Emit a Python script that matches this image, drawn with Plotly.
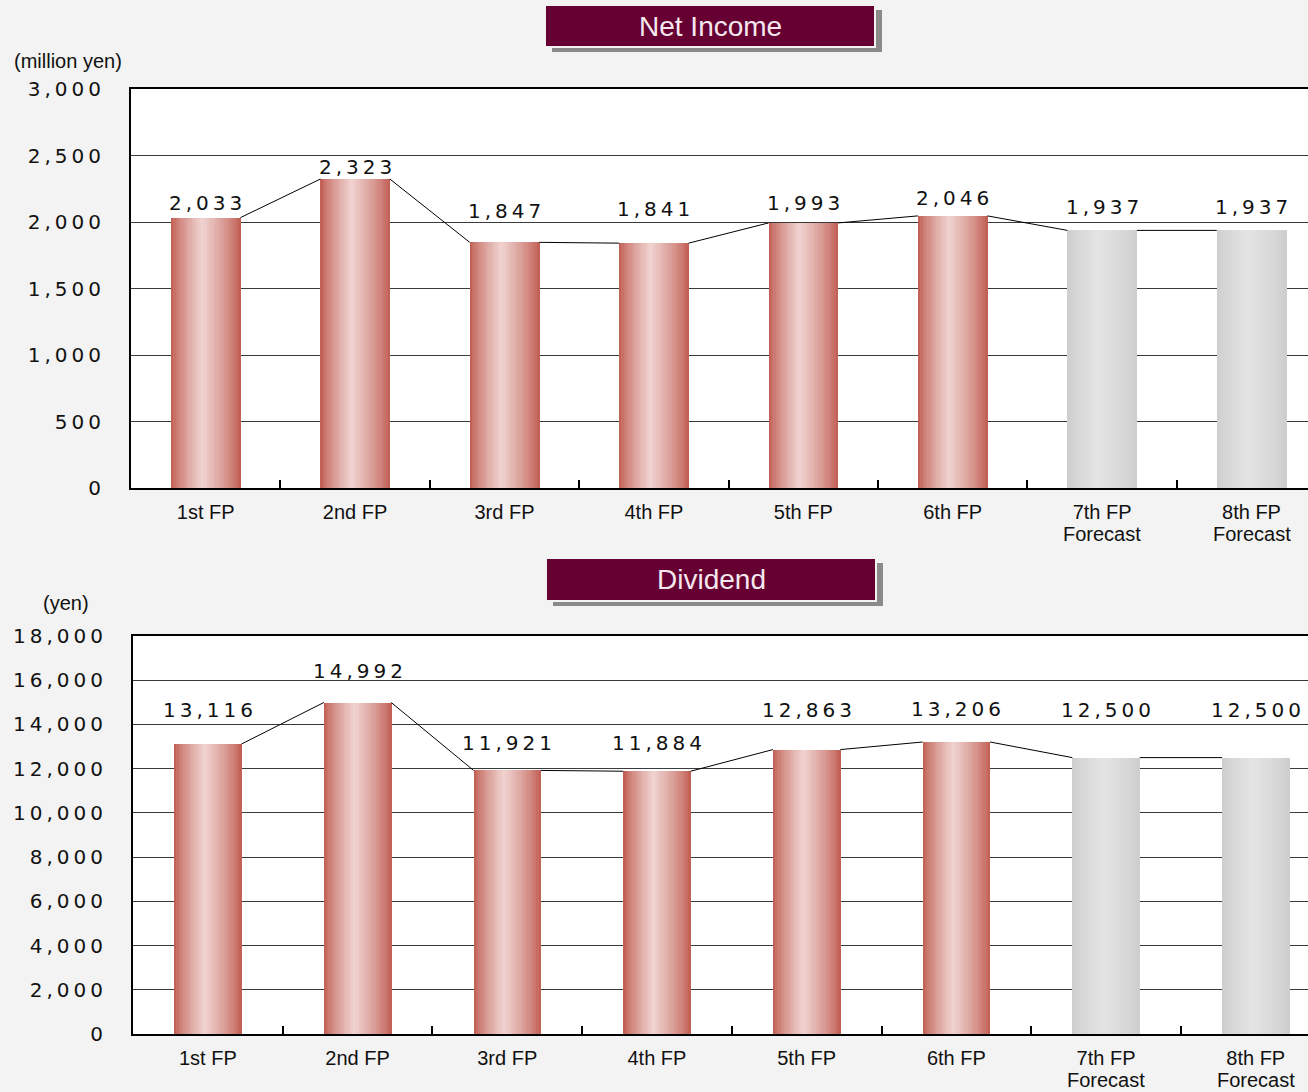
import plotly.graph_objects as go

# ---- data -------------------------------------------------------------
periods = ["1st FP", "2nd FP", "3rd FP", "4th FP", "5th FP", "6th FP",
           "7th FP<br>Forecast", "8th FP<br>Forecast"]
forecast = [False, False, False, False, False, False, True, True]

net_income = [2033, 2323, 1847, 1841, 1993, 2046, 1937, 1937]   # million yen
dividend = [13116, 14992, 11921, 11884, 12863, 13206, 12500, 12500]  # yen

ni_ticks = [0, 500, 1000, 1500, 2000, 2500, 3000]
div_ticks = [0, 2000, 4000, 6000, 8000, 10000, 12000, 14000, 16000, 18000]

# ---- styling ----------------------------------------------------------
W, H = 1308, 1092
FONT = "Liberation Sans, Arial, sans-serif"
NUM_FONT = "DejaVu Sans, Verdana, sans-serif"
INK = "#111111"
PAPER = "#F3F3F3"

# vertical lift (px) of each value label above its bar top
ni_label_lift = [15, 12, 31, 34, 20, 18, 23, 23]
div_label_lift = [34, 32, 27, 28, 40, 33, 48, 48]

N_STRIPS = 30
RED_DARK, RED_LIGHT = (190, 88, 76), (240, 211, 209)
GRAY_DARK, GRAY_LIGHT = (204, 204, 204), (228, 228, 228)
PEAK = 0.45

first_lines = [p.split("<br>")[0] for p in periods]
second_lines = [p.split("<br>")[1] if "<br>" in p else "" for p in periods]


def spaced(v):
    # wide-tracked number: thin space between glyphs
    return "\u2009".join(f"{v:,}")


def mix(a, b, f):
    return "rgb({},{},{})".format(*[round(a[k] + (b[k] - a[k]) * f) for k in range(3)])


def shade(t):
    # 0 at the bar edges, 1 at the highlight
    if t <= PEAK:
        f = t / PEAK
    else:
        f = (1 - t) / (1 - PEAK)
    return f ** 0.75


fig = go.Figure()


def add_panel(values, xa, ya, bar_w, lifts):
    xs = list(range(len(values)))
    sw = bar_w / N_STRIPS
    for i in range(N_STRIPS):
        f = shade((i + 0.5) / N_STRIPS)
        cols = [mix(GRAY_DARK, GRAY_LIGHT, f) if fc else mix(RED_DARK, RED_LIGHT, f)
                for fc in forecast]
        fig.add_trace(go.Bar(
            x=xs, y=values, xaxis=xa, yaxis=ya,
            width=sw * 1.15, offset=-bar_w / 2 + i * sw,
            marker=dict(color=cols, line=dict(width=0)),
            hoverinfo="skip", showlegend=False,
        ))
    # connector lines between neighbouring bar tops
    lx, ly = [], []
    for i in range(len(values) - 1):
        lx += [i + bar_w / 2, i + 1 - bar_w / 2, None]
        ly += [values[i], values[i + 1], None]
    fig.add_trace(go.Scatter(x=lx, y=ly, xaxis=xa, yaxis=ya, mode="lines",
                             line=dict(color="#000000", width=1),
                             hoverinfo="skip", showlegend=False))
    for i, v in enumerate(values):
        fig.add_annotation(x=i, y=v, xref=xa, yref=ya, text=spaced(v),
                           showarrow=False, yanchor="middle", yshift=lifts[i],
                           font=dict(family=NUM_FONT, size=20, color=INK))
    # second line of the category labels, set a little tighter than <br>
    for i, s in enumerate(second_lines):
        if s:
            fig.add_annotation(x=i, y=0, xref=xa, yref=ya + " domain", text=s,
                               showarrow=False, yanchor="middle", yshift=-46,
                               font=dict(family=FONT, size=20, color=INK))


add_panel(net_income, "x", "y", 0.465, ni_label_lift)
add_panel(dividend, "x2", "y2", 0.45, div_label_lift)


def xaxis_cfg(left_px, span_px, step_px):
    return dict(
        domain=[left_px / W, 1],
        range=[-0.5, -0.5 + span_px / step_px],
        automargin=False,
        tickmode="array", tickvals=list(range(len(periods))), ticktext=first_lines,
        ticks="", showgrid=False, zeroline=False,
        showline=True, linecolor="#000000", linewidth=2, mirror=True,
        tickfont=dict(family=FONT, size=20, color=INK),
        ticklabelstandoff=5,
        minor=dict(tickmode="array", tickvals=[k + 0.5 for k in range(len(periods) - 1)],
                   ticks="inside", ticklen=8, tickwidth=2, tickcolor="#000000",
                   showgrid=False),
    )


def yaxis_cfg(top_px, bottom_px, ticks, anchor):
    return dict(
        domain=[1 - bottom_px / H, 1 - top_px / H],
        range=[0, ticks[-1]], anchor=anchor,
        automargin=False,
        tickmode="array", tickvals=ticks, ticktext=[spaced(t) for t in ticks],
        ticks="", showgrid=True, gridcolor="#3A3A3A", gridwidth=1, zeroline=False,
        showline=True, linecolor="#000000", linewidth=2,
        tickfont=dict(family=NUM_FONT, size=20, color=INK),
        ticklabelstandoff=24,
    )


fig.update_layout(
    width=W, height=H, autosize=False,
    margin=dict(l=0, r=0, t=0, b=0, pad=0, autoexpand=False),
    paper_bgcolor=PAPER, plot_bgcolor="#FFFFFF",
    barmode="overlay", bargap=0,
    font=dict(family=FONT, color=INK),
    xaxis=dict(anchor="y", **xaxis_cfg(131, 1177, 149.4)),
    yaxis=yaxis_cfg(89, 488, ni_ticks, "x"),
    xaxis2=dict(anchor="y2", **xaxis_cfg(133, 1175, 149.7)),
    yaxis2=yaxis_cfg(636, 1034, div_ticks, "x2"),
)


# ---- panel titles and unit captions ------------------------------------
def title_box(text, x0, y0, x1, y1):
    fig.add_shape(type="rect", xref="paper", yref="paper",
                  x0=(x0 + 7) / W, x1=(x1 + 7) / W, y0=1 - (y1 + 5) / H, y1=1 - (y0 + 5) / H,
                  fillcolor="#8A8A8A", line=dict(width=0), layer="above")
    fig.add_shape(type="rect", xref="paper", yref="paper",
                  x0=x0 / W, x1=x1 / W, y0=1 - y1 / H, y1=1 - y0 / H,
                  fillcolor="#660033", line=dict(color="#F2F2F2", width=2), layer="above")
    fig.add_annotation(x=(x0 + x1) / 2 / W, y=1 - (y0 + y1) / 2 / H, xref="paper", yref="paper",
                       text=text, showarrow=False, xanchor="center", yanchor="middle",
                       font=dict(family=FONT, size=28, color="#F4E8EE"))


title_box("Net Income", 545, 5, 875, 47)
title_box("Dividend", 546, 558, 876, 601)

fig.add_annotation(x=12 / W, y=1 - 61 / H, xref="paper", yref="paper", text="(million yen)",
                   showarrow=False, xanchor="left", yanchor="middle",
                   font=dict(family=FONT, size=20, color=INK))
fig.add_annotation(x=66 / W, y=1 - 603 / H, xref="paper", yref="paper", text="(yen)",
                   showarrow=False, xanchor="center", yanchor="middle",
                   font=dict(family=FONT, size=20, color=INK))

fig.write_html("out.html")
